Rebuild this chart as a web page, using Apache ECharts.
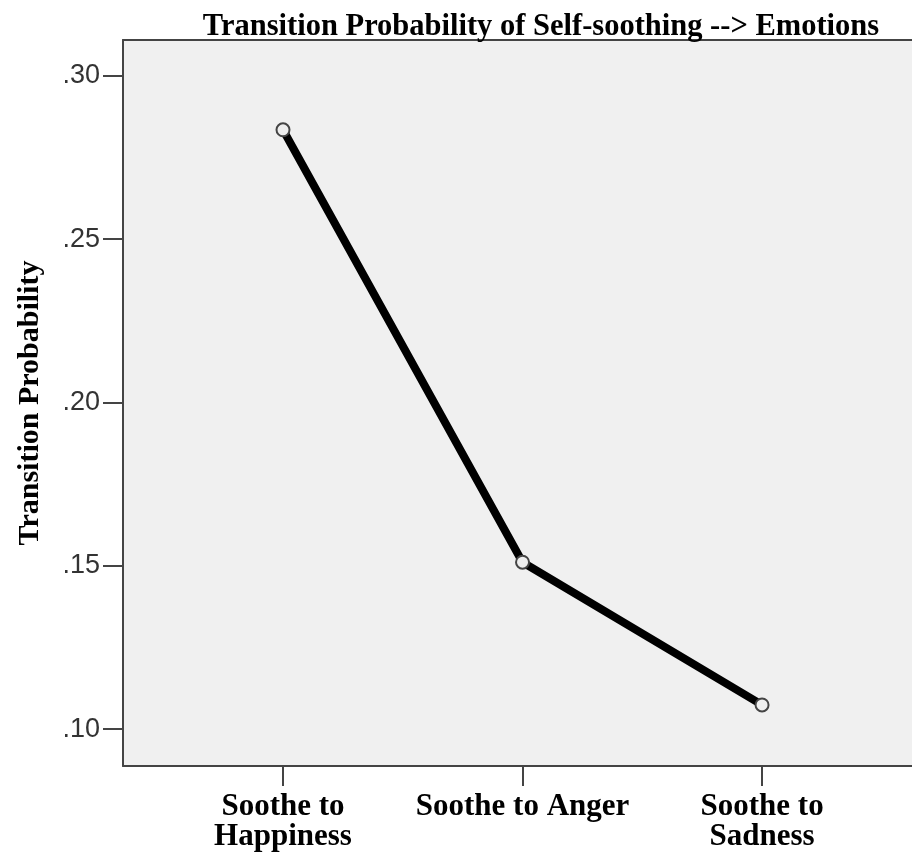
<!DOCTYPE html>
<html>
<head>
<meta charset="utf-8">
<script src="https://cdn.jsdelivr.net/npm/echarts@6/dist/echarts.min.js"></script>
<style>
html,body{margin:0;padding:0;background:#fff;}
#chart{width:912px;height:853px;}
</style>
</head>
<body>
<div id="chart"></div>
<script>
// Data
const categories = ['Soothe to\nHappiness', 'Soothe to Anger', 'Soothe to\nSadness'];
const probabilities = [0.2835, 0.1511, 0.1074];
const yTicks = [0.10, 0.15, 0.20, 0.25, 0.30];
const xTicks = [0, 1, 2];
const titleText = 'Transition Probability of Self-soothing --> Emotions';
const yAxisTitle = 'Transition Probability';

const chart = echarts.init(document.getElementById('chart'), null, {renderer: 'canvas'});
const seriesData = probabilities.map((v, i) => [i, v]);
const frameLine = {color: '#444', width: 2};

chart.setOption({
  backgroundColor: '#ffffff',
  animation: false,
  title: {
    text: titleText,
    left: 536,
    textAlign: 'center',
    top: 7,
    textStyle: {fontFamily: 'Liberation Serif', fontWeight: 'bold', fontSize: 30.5, color: '#000'}
  },
  grid: {
    left: 123, top: 40, bottom: 87, right: 0,
    show: true, backgroundColor: '#f0f0f0', borderWidth: 0,
    containLabel: false
  },
  xAxis: [{
    type: 'value',
    min: -0.668, max: 2.626,
    position: 'bottom',
    splitLine: {show: false},
    axisLine: {show: true, onZero: false, lineStyle: frameLine},
    axisTick: {show: true, customValues: xTicks, length: 20, lineStyle: frameLine},
    axisLabel: {
      customValues: xTicks,
      formatter: v => categories[Math.round(v)],
      margin: 26,
      fontFamily: 'Liberation Serif', fontWeight: 'bold', fontSize: 31, lineHeight: 30, color: '#000',
      align: 'center'
    }
  }, {
    type: 'value',
    min: -0.668, max: 2.626,
    position: 'top',
    splitLine: {show: false},
    axisLine: {show: true, onZero: false, lineStyle: frameLine},
    axisTick: {show: false},
    axisLabel: {show: false}
  }],
  yAxis: {
    type: 'value',
    min: 0.0887, max: 0.3110,
    name: yAxisTitle,
    nameLocation: 'middle',
    nameGap: 78,
    nameTextStyle: {fontFamily: 'Liberation Serif', fontWeight: 'bold', fontSize: 30, color: '#000'},
    splitLine: {show: false},
    axisLine: {show: true, onZero: false, lineStyle: frameLine},
    axisTick: {show: true, customValues: yTicks, length: 20, lineStyle: frameLine},
    axisLabel: {
      customValues: yTicks,
      formatter: v => '.' + (Math.round(v * 100)).toString().padStart(2, '0'),
      margin: 23,
      padding: [10, 0, 0, 0],
      fontFamily: 'Liberation Sans', fontSize: 27, color: '#333'
    }
  },
  series: [{
    type: 'line',
    xAxisIndex: 0,
    data: seriesData,
    lineStyle: {color: '#000', width: 8},
    symbol: 'circle',
    symbolSize: 13,
    itemStyle: {color: '#eeeeee', borderColor: '#444', borderWidth: 2},
    z: 3
  }]
});
</script>
</body>
</html>
